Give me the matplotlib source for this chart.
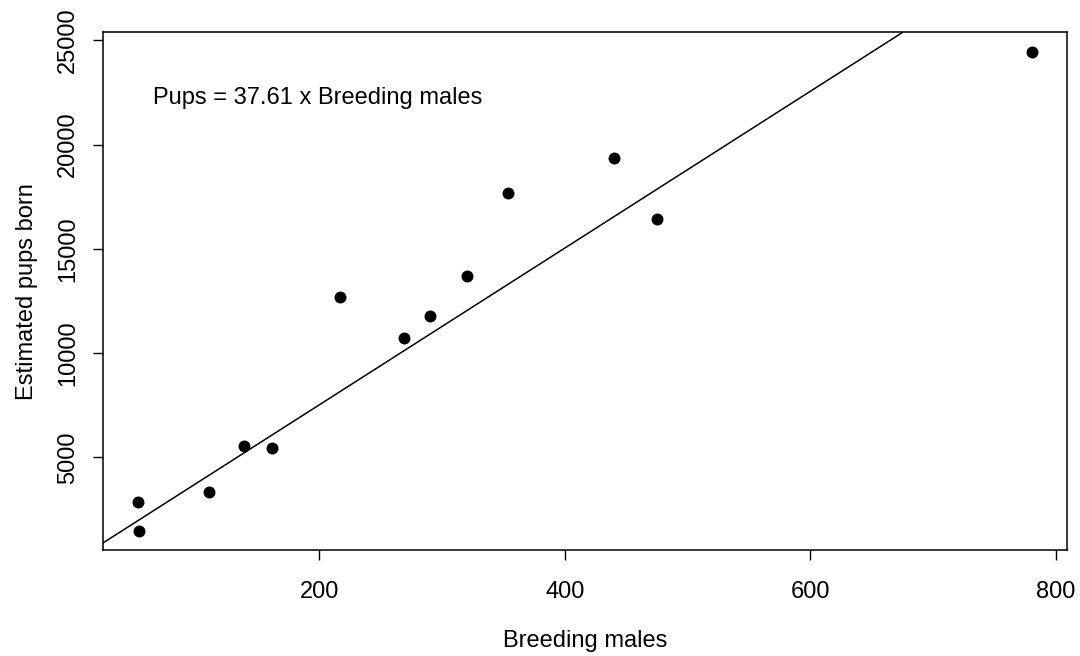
import numpy as np
import matplotlib
matplotlib.use("Agg")
import matplotlib.pyplot as plt

plt.rcParams['font.family'] = ['Liberation Sans', 'DejaVu Sans']

breeding_males = [52.6, 53.4, 110.4, 138.9, 161.7, 216.9, 268.7, 290.4, 320.5, 353.4, 440.0, 475.0, 780.1]
pups_born = [2870, 1478, 3349, 5557, 5461, 12706, 10710, 11780, 13700, 17668, 19347, 16420, 24463]
slope = 37.61
x_ticks = [200, 400, 600, 800]
y_ticks = [5000, 10000, 15000, 20000, 25000]

fig = plt.figure(figsize=(10.8, 6.56), dpi=100)
ax = fig.add_axes([0.095, 0.1616, 0.8933, 0.7889])

ax.scatter(breeding_males, pups_born, s=8.6**2, color='black', zorder=3, linewidths=0)

xmin, xmax = min(breeding_males), max(breeding_males)
ymin, ymax = min(pups_born), max(pups_born)
dx = (xmax - xmin) * 0.04
dy = (ymax - ymin) * 0.04
xl = (xmin - dx, xmax + dx)
yl = (ymin - dy, ymax + dy)
ax.set_xlim(xl)
ax.set_ylim(yl)
ax.axline((0, 0), slope=slope, color='black', linewidth=1.1)

ax.set_xticks(x_ticks)
ax.set_yticks(y_ticks)
ax.set_xticklabels([str(v) for v in x_ticks])
ax.set_yticklabels([str(v) for v in y_ticks], rotation=90, va='center')
ax.tick_params(axis='x', length=7, width=1, labelsize=17, pad=15)
ax.tick_params(axis='y', length=7, width=1, labelsize=17, pad=10)
for s in ax.spines.values():
    s.set_linewidth(1.1)

ax.set_xlabel('Breeding males', fontsize=17, labelpad=20)
ax.set_ylabel('Estimated pups born', fontsize=17, labelpad=14)

ax.text(64.6, 22240, 'Pups = 37.61 x Breeding males', fontsize=17, va='center', ha='left')

fig.savefig('out.png', dpi=100)
